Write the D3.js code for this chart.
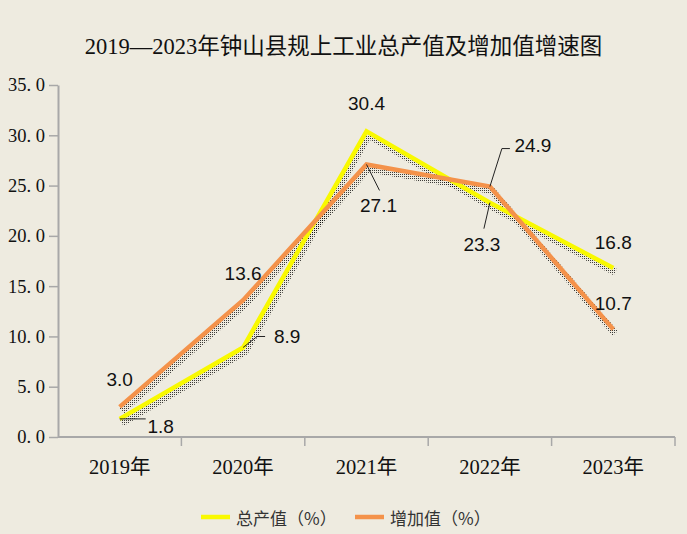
<!DOCTYPE html>
<html>
<head>
<meta charset="utf-8">
<script src="https://cdn.jsdelivr.net/npm/d3@7"></script>
<style>
  html, body { margin: 0; padding: 0; background: #eeebe0; }
  svg { display: block; }
</style>
</head>
<body>
<div id="chart"></div>
<script>
// chart data
const years = ["2019年", "2020年", "2021年", "2022年", "2023年"];
const outputGrowth = [1.8, 8.9, 30.4, 23.3, 16.8];   // 总产值
const addedGrowth = [3.0, 13.6, 27.1, 24.9, 10.7];   // 增加值
const yTicks = [0, 5, 10, 15, 20, 25, 30, 35];
const seriesNames = ["总产值（%）", "增加值（%）"];
const titleText = "2019—2023年钟山县规上工业总产值及增加值增速图";

const width = 687, height = 534;
const margin = {top: 85, right: 12, bottom: 97, left: 58};

const svg = d3.select("#chart").append("svg")
    .attr("width", width)
    .attr("height", height);

svg.append("rect").attr("width", width).attr("height", height).attr("fill", "#eeebe0");

// halftone pattern for the line shadows
const defs = svg.append("defs");
const pat = defs.append("pattern")
    .attr("id", "dots")
    .attr("width", 2).attr("height", 2)
    .attr("patternUnits", "userSpaceOnUse");
pat.append("rect").attr("width", 1).attr("height", 1).attr("fill", "#000");

const x = d3.scaleBand()
    .domain(years)
    .range([margin.left, width - margin.right]);

const y = d3.scaleLinear()
    .domain([0, 35])
    .range([height - margin.bottom, margin.top]);

const cx = (i) => x(years[i]) + x.bandwidth() / 2;

// title
svg.append("text")
    .attr("x", width / 2)
    .attr("y", 54)
    .attr("text-anchor", "middle")
    .style("font-family", "'Liberation Serif', 'Noto Sans CJK SC', serif")
    .style("font-size", "22.5px")
    .attr("fill", "#111")
    .text(titleText);

// y axis
const yAxis = d3.axisLeft(y)
    .tickValues(yTicks)
    .tickSize(9)
    .tickSizeOuter(0)
    .tickFormat(d => d3.format(".1f")(d).replace(".", ". "));

const gy = svg.append("g")
    .attr("transform", "translate(" + margin.left + ",0)")
    .call(yAxis);
gy.select(".domain").attr("stroke", "#a8a8a8").attr("stroke-width", 2);
gy.selectAll(".tick line").attr("stroke", "#a8a8a8").attr("stroke-width", 1.5);
gy.selectAll(".tick text")
    .attr("x", -13)
    .style("font-family", "'Liberation Serif', serif")
    .style("font-size", "18.5px")
    .attr("fill", "#111");

// x axis with ticks between categories
const gx = svg.append("g")
    .attr("transform", "translate(0," + y(0) + ")");
gx.append("line")
    .attr("x1", margin.left).attr("x2", width - margin.right)
    .attr("stroke", "#a8a8a8").attr("stroke-width", 2);
const bounds = d3.range(years.length + 1).map(i => margin.left + i * x.bandwidth());
gx.selectAll(".sep").data(bounds.slice(1)).enter().append("line")
    .attr("class", "sep")
    .attr("x1", d => d).attr("x2", d => d)
    .attr("y1", 0).attr("y2", 9)
    .attr("stroke", "#a8a8a8").attr("stroke-width", 1.5);
gx.selectAll(".lab").data(years).enter().append("text")
    .attr("class", "lab")
    .attr("x", d => x(d) + x.bandwidth() / 2)
    .attr("y", 37)
    .attr("text-anchor", "middle")
    .style("font-family", "'Liberation Serif', 'Noto Sans CJK SC', serif")
    .style("font-size", "20.5px")
    .attr("fill", "#111")
    .text(d => d);

const line = d3.line().x((d, i) => cx(i)).y(d => y(d));

const series = [
    {values: outputGrowth, color: "#f9f900"},
    {values: addedGrowth, color: "#f4924a"}
];

// shadows first
series.forEach(s => {
    svg.append("path")
        .datum(s.values)
        .attr("d", line)
        .attr("transform", "translate(2,4)")
        .attr("fill", "none")
        .attr("stroke", "url(#dots)")
        .attr("stroke-width", 7)
        .attr("opacity", 0.75)
        .attr("stroke-linejoin", "round");
});
series.forEach(s => {
    svg.append("path")
        .datum(s.values)
        .attr("d", line)
        .attr("fill", "none")
        .attr("stroke", s.color)
        .attr("stroke-width", 4.5)
        .attr("stroke-linejoin", "miter");
});

// data labels: series values, index, offset, leader line points
const labelFont = "'Liberation Sans', Arial, sans-serif";
const labels = [
    {v: addedGrowth, i: 0, dx: 0, dy: -27, lead: null},
    {v: outputGrowth, i: 0, dx: 41, dy: 8, lead: [[0, 0], [26, 0]]},
    {v: addedGrowth, i: 1, dx: 0, dy: -27, lead: null},
    {v: outputGrowth, i: 1, dx: 44, dy: -11, lead: [[0, 0], [14, -11], [22, -11]]},
    {v: outputGrowth, i: 2, dx: 0, dy: -28, lead: null},
    {v: addedGrowth, i: 2, dx: 12, dy: 41, lead: [[0, 0], [13, 26]]},
    {v: addedGrowth, i: 3, dx: 43, dy: -41, lead: [[0, 0], [12, -38], [20, -38]]},
    {v: outputGrowth, i: 3, dx: -8, dy: 42, lead: [[0, 0], [-6, 26]]},
    {v: outputGrowth, i: 4, dx: 0, dy: -26, lead: null},
    {v: addedGrowth, i: 4, dx: 0, dy: -26, lead: null}
];

labels.forEach(l => {
    const px = cx(l.i), py = y(l.v[l.i]);
    if (l.lead) {
        svg.append("path")
            .attr("d", d3.line()(l.lead.map(p => [px + p[0], py + p[1]])))
            .attr("fill", "none")
            .attr("stroke", "#222")
            .attr("stroke-width", 1);
    }
    svg.append("text")
        .attr("x", px + l.dx)
        .attr("y", py + l.dy)
        .attr("text-anchor", "middle")
        .attr("dominant-baseline", "central")
        .style("font-family", labelFont)
        .style("font-size", "19px")
        .attr("fill", "#111")
        .text(d3.format(".1f")(l.v[l.i]));
});

// legend
const legend = svg.append("g").attr("transform", "translate(0,517)");
const legendX = [201, 355];
series.forEach((s, k) => {
    legend.append("line")
        .attr("x1", legendX[k]).attr("x2", legendX[k] + 29)
        .attr("stroke", s.color).attr("stroke-width", 4.5);
    legend.append("text")
        .attr("x", legendX[k] + 35)
        .attr("y", 0)
        .attr("dominant-baseline", "central")
        .style("font-family", "'Noto Sans CJK SC', sans-serif")
        .style("font-size", "17px")
        .attr("fill", "#333")
        .text(seriesNames[k]);
});
</script>
</body>
</html>
